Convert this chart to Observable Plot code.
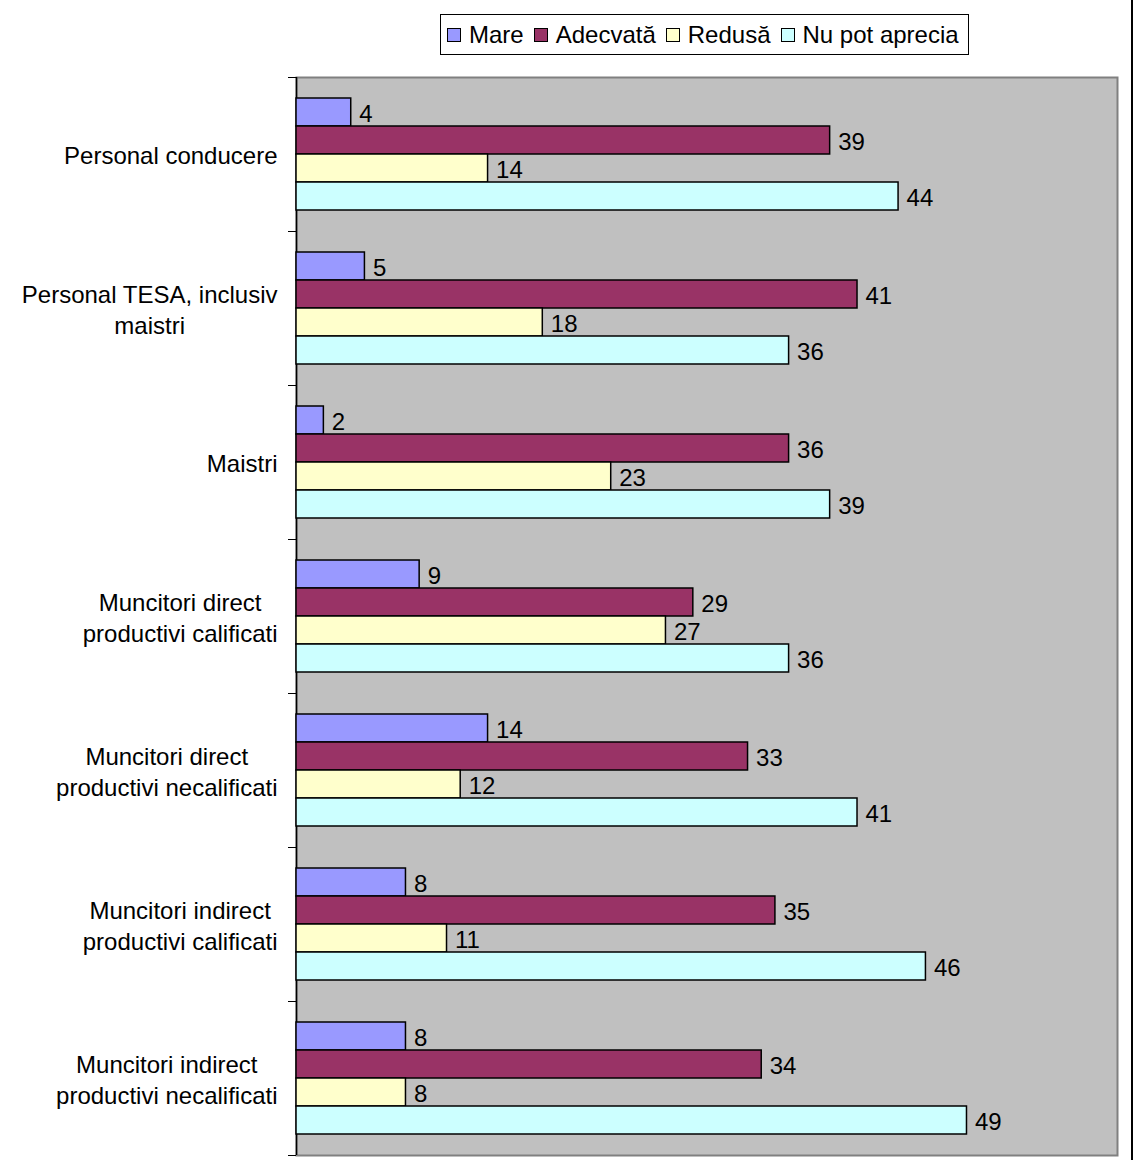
<!DOCTYPE html>
<html><head><meta charset="utf-8">
<script src="https://cdn.jsdelivr.net/npm/d3@7"></script>
<script src="https://cdn.jsdelivr.net/npm/@observablehq/plot@0.6"></script>
<style>
body{margin:0;background:#fff;font-family:"Liberation Sans",Arial,sans-serif;}
#wrap{position:relative;width:1131px;height:1160px;border-right:2px solid #000;overflow:hidden}
#chart{position:absolute;left:0;top:0}
#legend{position:absolute;left:440px;top:14px;width:529px;height:41px;box-sizing:border-box;border:1px solid #000;display:flex;align-items:center;padding-left:6px;font-size:24px;color:#000;background:#fff;white-space:nowrap}
.item{display:flex;align-items:center;margin-right:10px}
.sw{width:12px;height:12px;border:1px solid #000;margin-right:8px}
</style></head><body><div id="wrap"><div id="chart"></div><div id="legend"></div></div>
<script>
const categories = ["Personal conducere","Personal TESA, inclusiv maistri","Maistri","Muncitori direct productivi calificati","Muncitori direct productivi necalificati","Muncitori indirect productivi calificati","Muncitori indirect productivi necalificati"];
const categoryLabels = ["Personal conducere","Personal TESA, inclusiv\nmaistri","Maistri","Muncitori direct\nproductivi calificati","Muncitori direct\nproductivi necalificati","Muncitori indirect\nproductivi calificati","Muncitori indirect\nproductivi necalificati"];
const series = ["Mare","Adecvată","Redusă","Nu pot aprecia"];
const mare = [4,5,2,9,14,8,8];
const adecvata = [39,41,36,29,33,35,34];
const redusa = [14,18,23,27,12,11,8];
const nuPotAprecia = [44,36,39,36,41,46,49];
const colors = ["#9999FF","#993366","#FFFFCC","#CCFFFF"];

const seriesValues = [mare, adecvata, redusa, nuPotAprecia];
const rows = categories.flatMap((c, i) => series.map((s, j) => ({category: c, series: s, value: seriesValues[j][i]})));
const labelOf = new Map(categories.map((c, i) => [c, categoryLabels[i]]));

const W = 1131, H = 1160, mT = 77, mB = 5, mL = 296, mR = 14;
const step = (H - mT - mB) / categories.length;
const font = '"Liberation Sans", Arial, sans-serif';

const chart = Plot.plot({
  width: W, height: H, marginTop: mT, marginBottom: mB, marginLeft: mL, marginRight: mR,
  style: {fontFamily: font, fontSize: "24px", color: "#000", background: "transparent", overflow: "visible"},
  x: {domain: [0, 60], axis: null},
  y: {domain: series, paddingInner: 0, paddingOuter: 0.75, axis: null},
  fy: {domain: categories, padding: 0, label: null},
  color: {domain: series, range: colors},
  marks: [
    Plot.frame({facet: "super", fill: "#C0C0C0", stroke: "#808080", strokeWidth: 2}),
    Plot.ruleX([0], {stroke: "#000", strokeWidth: 1.5}),
    Plot.barX(rows, {fy: "category", y: "series", x: "value", fill: "series", stroke: "#000", strokeWidth: 1.5}),
    Plot.text(rows, {fy: "category", y: "series", x: "value", text: d => String(d.value), textAnchor: "start", dx: 8, dy: 2, fontSize: 24, fill: "#000"}),
    Plot.text(categories, {fy: d => d, text: d => labelOf.get(d), frameAnchor: "left", textAnchor: "end", dx: -19, lineHeight: 1.29, fontSize: 24, fill: "#000"}),
    Plot.axisFy({anchor: "left", tickSize: 8, tickFormat: () => "", dy: -step / 2, stroke: "#000"}),
    Plot.axisFy([categories[categories.length - 1]], {anchor: "left", tickSize: 8, tickFormat: () => "", dy: step / 2, stroke: "#000"})
  ]
});
document.getElementById("chart").appendChild(chart);

// center the lines of multi-line category labels (block stays right-aligned)
chart.querySelectorAll("text").forEach(t => {
  const spans = t.querySelectorAll("tspan");
  if (spans.length > 1) {
    const w = Math.max(...Array.from(spans, s => s.getComputedTextLength()));
    t.setAttribute("text-anchor", "middle");
    t.style.textAnchor = "middle";
    spans.forEach(s => { s.setAttribute("x", -w / 2); s.style.textAnchor = "middle"; });
  }
});

const legend = document.getElementById("legend");
series.forEach((s, i) => {
  const item = document.createElement("div");
  item.className = "item";
  const sw = document.createElement("span");
  sw.className = "sw";
  sw.style.background = colors[i];
  const tx = document.createElement("span");
  tx.textContent = s;
  item.append(sw, tx);
  legend.append(item);
});
</script></body></html>
